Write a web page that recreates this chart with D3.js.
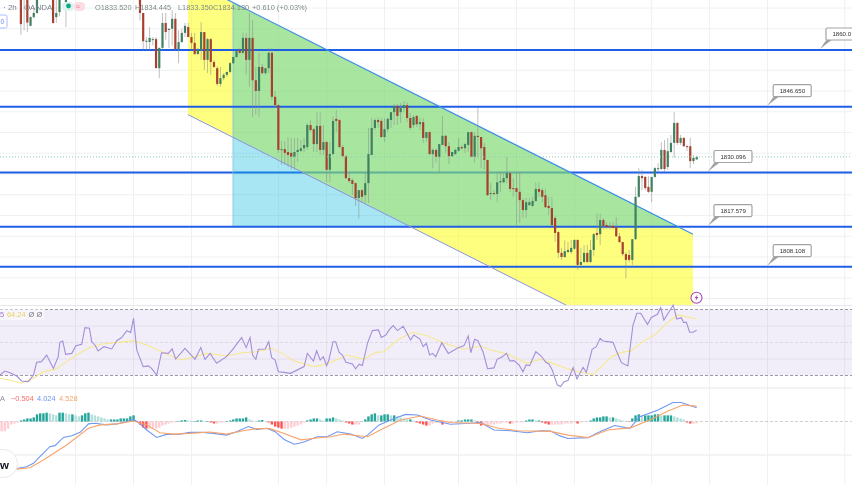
<!DOCTYPE html>
<html lang="en">
<head>
<meta charset="UTF-8">
<title>XAUUSD 2h</title>
<style>
  html, body { margin: 0; padding: 0; background: #fff; overflow: hidden; }
  svg { display: block; font-family: "Liberation Sans", Arial, sans-serif; filter: blur(0.4px); }
</style>
</head>
<body>
<svg width="852" height="485"></svg>
<script src="https://cdn.jsdelivr.net/npm/d3@7"></script>
<script>

// o, h, l, c per 2h bar. null = bar sits above the top of the picture
var candles = [
  [1873,1874,1863.5,1866.1],[1874,1875,1864.6,1872],[1874,1875,1864.2,1866.5],[1865.7,1868,1865.6,1867.8],[1867.8,1870,1867.5,1868.8],[1868.8,1874,1868.6,1873],
  null,null,null,null,
  [1874,1875,1866.2,1866.4],[1867.8,1873,1866.4,1868.8],[1869,1874,1868,1873],null,[1871,1875,1865.4,1874],
  null,null,null,null,null,null,null,null,null,null,null,null,null,null,null,null,null,null,null,null,null,null,
  [1874,1875,1867,1868.8],[1868.8,1868.8,1859.9,1862],[1862,1863,1859.9,1862.1],[1861.8,1865.4,1859.9,1862.8],[1862.3,1863,1861,1862.5],
  [1862.5,1863,1855.5,1855.5],[1855.5,1860.4,1853.1,1860.4],[1860.4,1868.8,1859.9,1866.4],[1866.4,1868.8,1862.3,1864.2],[1864.7,1865,1860.4,1865],
  [1865,1869.5,1861,1867.4],[1867.4,1868.8,1859.9,1860.1],[1860.1,1864.7,1856.7,1861.8],[1861.8,1865,1861.6,1864],[1864,1866.4,1863,1865.7],
  [1865.4,1866.4,1863,1863],[1863,1864,1859.9,1861.6],[1861.6,1864,1858.7,1858.9],[1858.9,1860.4,1858.7,1859.9],[1859.9,1866.6,1857.5,1864.2],
  [1864.2,1864.2,1855.1,1857.5],[1857.5,1862.8,1854.3,1862.5],[1862.5,1862.8,1853.9,1857],[1857,1857.5,1855.5,1855.8],[1855.5,1856,1851.2,1851.7],
  [1851.7,1855.8,1851,1853.1],[1853.1,1854.3,1852.6,1853.9],[1853.9,1854.6,1853.4,1854.6],[1854.6,1857,1854.3,1856.7],[1856.7,1858.2,1856.5,1858.2],
  [1858.2,1859.6,1858,1859.6],[1859.9,1860.4,1858.9,1859.2],[1859.2,1864,1858.9,1862.8],[1862.8,1864,1853.9,1857.5],[1857.5,1868.8,1851,1862.8],
  [1862.8,1867.1,1843.7,1852.6],[1852.6,1855.8,1844.2,1850],[1850,1859.2,1843.7,1855.8],[1855.8,1856.5,1854,1854.3],[1854.3,1855.5,1853.9,1855.5],
  [1855.5,1860.4,1854.3,1859.2],[1859.2,1860.4,1847.8,1848.6],[1848.6,1850,1846,1846.6],[1846.6,1846.9,1835.1,1835.8],[1835.8,1838,1832.2,1836],
  [1836,1838,1832.2,1835.1],[1835.3,1838.9,1831.7,1834.6],[1835.1,1838.7,1831,1834.1],[1834.1,1838.7,1831,1835.3],[1835.3,1838.7,1832.9,1835.8],
  [1835.6,1838.2,1835.3,1836.2],[1836.2,1838.7,1835.3,1837],[1836.5,1842.3,1835.8,1841.8],[1841.8,1843,1840.1,1840.6],[1840.8,1841.1,1835.3,1837.2],
  [1837.2,1844.9,1835.3,1841.6],[1841.6,1844.9,1834.6,1835.8],[1835.8,1841.8,1834.6,1837.7],[1837.7,1838,1828,1831],[1831,1837.7,1828,1834.8],
  [1834.8,1843.9,1834.6,1842.8],[1843.3,1845.4,1840.1,1842.8],[1843,1843.3,1836.2,1836.5],[1836.5,1837,1833.9,1834.3],[1834.3,1834.6,1828.8,1829],
  [1829,1830.5,1827.8,1828.3],[1828.5,1829,1824.9,1827.6],[1827.8,1828,1822.3,1824.2],[1824.2,1826.1,1819.2,1826.1],[1826.1,1826.4,1823.2,1824.5],
  [1824.9,1830.5,1823,1827.8],[1827.8,1841.1,1823,1834.8],[1834.6,1843.5,1834.6,1841.1],[1841.1,1843.5,1840.6,1843],[1843,1843.7,1841.1,1842.5],
  [1842.8,1843.5,1838.7,1838.9],[1838.9,1843.5,1837.7,1840.8],[1840.8,1843.5,1840.1,1843.3],[1843,1844.9,1841.1,1844.9],[1844.9,1846.9,1841.8,1846.4],
  [1846.4,1846.9,1841.8,1844],[1844.9,1847.1,1842.3,1845.9],[1845.9,1847.6,1844.9,1846.6],[1846.6,1847.3,1842.5,1843.5],[1843.5,1844.7,1840.6,1841.1],
  [1841.8,1844.2,1841.1,1843.7],[1844,1844.2,1841.3,1842],[1842,1843.5,1840.6,1842.5],[1842.5,1843.5,1837.5,1838.7],[1838.7,1840.1,1837.7,1840.1],
  [1840.1,1840.3,1834.6,1834.8],[1834.8,1836.2,1831.4,1835.8],[1835.8,1836.2,1832.7,1834.1],[1834.1,1837.2,1830.5,1837.2],[1837,1844,1837,1839.2],
  [1839.2,1839.4,1835.1,1836.7],[1836.7,1837.7,1832.4,1834.3],[1834.3,1835.3,1834.1,1835.3],[1834.8,1836.2,1834.6,1835.8],[1835.6,1838.7,1835.3,1836.5],
  [1836.5,1837,1835.8,1836.2],[1836.2,1837.5,1835.1,1837.2],[1837,1840.1,1835.3,1840.1],[1840.1,1840.3,1833.9,1834.1],[1834.1,1840.1,1832.7,1839.2],
  [1839.2,1846.1,1833.9,1838.9],[1838.9,1838.9,1831.4,1836.2],[1836.5,1837.5,1831,1833.4],[1833.4,1833.4,1824.7,1824.9],[1825.2,1827.8,1823.7,1825.4],
  [1825.4,1826.1,1824.9,1825.2],[1825.2,1830.5,1823.2,1828],[1828,1830.5,1825.7,1828.3],[1828,1830.3,1827.8,1829],[1829,1834.1,1827.8,1830.2],
  [1830.2,1830.5,1825.7,1826.4],[1826.6,1829,1824.5,1826.4],[1826.6,1830.5,1817.7,1825.7],[1825.7,1830.5,1818.2,1823.7],[1823.7,1824.2,1819.4,1821.3],
  [1821.3,1824.2,1819.4,1823.2],[1822.5,1824.2,1822.3,1823.2],[1822.3,1824.5,1822,1823.5],[1823.5,1828,1823.2,1826.4],[1826.4,1828,1824.5,1825.7],
  [1826.1,1826.6,1823.2,1824.5],[1824.9,1826.4,1821.8,1822],[1822.3,1824.5,1820.1,1821.8],[1821.8,1824.5,1817.5,1817.7],[1819.4,1819.9,1813.6,1815.8],
  [1816,1816.3,1809.8,1811],[1811,1812.2,1809.3,1810],[1810,1814,1809.8,1811.4],[1811.2,1813.6,1811,1811.7],[1811.2,1814.1,1810.7,1812.2],
  [1812,1814.3,1811.7,1814.1],[1814.1,1814.3,1806.9,1808.1],[1808.1,1812.2,1807.6,1808.8],[1808.8,1812.9,1808.5,1811],[1811,1812.9,1808.5,1808.8],
  [1808.8,1814.1,1808.5,1811.7],[1811.7,1815.8,1810.2,1815.5],[1815.8,1820.4,1814.1,1815.3],[1815.5,1820.4,1812.9,1818.9],[1818.9,1819.4,1816.7,1817.5],
  [1817.7,1818.4,1816.7,1817.2],[1817.5,1818.4,1816.7,1817.2],[1817.5,1818.4,1816.7,1817],[1817.2,1819.6,1814.8,1815],[1815,1815.8,1813.4,1813.6],
  [1813.6,1813.6,1810.2,1810.7],[1810.7,1811.2,1804.9,1809.3],[1810.5,1811.7,1808.8,1809.3],[1809.3,1814.3,1808.1,1814.3],[1814.3,1826.9,1814.1,1824.5],
  [1824.5,1831.4,1824.2,1829.5],[1829.5,1831,1826.1,1829],[1829.3,1829.5,1826.1,1826.6],[1826.9,1829.5,1825.4,1825.7],[1825.7,1829.3,1823.2,1829.3],
  [1829.3,1831.7,1829,1831.4],[1831.2,1832.6,1830.5,1831.4],[1831.2,1837.7,1831,1835.8],[1835.8,1838.2,1830.5,1831.2],[1831.7,1838.7,1831,1835.5],
  [1835.3,1839.4,1835.1,1837.5],[1837.5,1844.9,1833.9,1842.3],[1842.3,1842.5,1837,1837.5],[1837.5,1839.4,1837,1838.7],[1838.7,1838.9,1836.5,1836.7],
  [1836.7,1837,1835.5,1836.5],[1836.7,1838.7,1831.4,1833.1],[1833.1,1834.6,1832.4,1833.9],[1833.52,1834.445,1833.35,1834.13]
];

var levelPrices = [1859.88, 1846.22, 1830.36, 1817.3, 1807.66];
var levelLabels = ["1860.0", "1846.650", "1830.096", "1817.579", "1808.108"];
var calloutBars = [248.3, 231.9, 213.5, 213.5, 231.9];

var gridBars = [17, 35, 53, 80, 95, 113, 136, 154, 172, 196, 214, 232, 256];
var gridPrices = [1870, 1865, 1860, 1855, 1850, 1845, 1840, 1835, 1830, 1825, 1820, 1815, 1810, 1805, 1800];
var rsiGrid = [60, 40];

// drawings, as bar number and price
var channelUpper = [[51.9, 1876.8], [208.85, 1815.5]];
var channelLower = [[51.9, 1844.3], [208.85, 1783]];
var boxCorners = [[65.9, 1871.2], [65.9, 1817.3], [204.7, 1817.3]];

var rsiLine = [[-6.5,30.3],[-5,32.7],[-3.4,31.7],[-1.3,29.7],[.2,26.7],[2.3,26.3],[3.9,30.3],[4.9,38],[6.4,38.4],[8,42.4],[10.1,34.3],[11.6,41.4],[12.1,50.1],[13,50.9],[13.9,42.8],[15.8,43.4],[17.1,48],[18.9,48.9],[19.9,59],[21.3,58.6],[22,50.5],[23,48.5],[24,44.9],[25.8,47.5],[28.2,46.1],[29.8,51.1],[31.3,53],[32.9,57.2],[34.1,56],[35,64.6],[36,45.5],[38,35.4],[39.6,35.8],[40.6,34.3],[42.2,30.3],[43.7,43.8],[45.8,43.4],[47,46.1],[48.1,40],[51,46.5],[54.1,39.8],[55.9,46.9],[57.2,39.8],[58.8,43.4],[60.8,37.4],[63.9,41.4],[65.7,45.5],[68.6,53],[70,46.9],[71.2,53],[72,42.4],[73,39.8],[73.8,45.9],[75.9,46.1],[77,50.5],[77.9,41],[79,39.4],[80,32.3],[81.8,31.9],
  [83.8,31.3],[88,35.4],[89,43.4],[90.9,38.8],[91.9,45],[93,39.4],[94,41.4],[95,36],[95.7,39.4],[97,50.5],[97.8,50.5],[98.9,44],[99.9,42.4],[101,38],[103,37],[104,34],[105.1,36.8],[106.1,36],[107.7,49.5],[109.2,57.2],[111.1,57.6],[112,53],[113.4,54.5],[114.4,57.6],[115.7,60.2],[117,57.2],[118.8,59.8],[121.1,51.5],[122.1,54.5],[124,52.1],[125,47.5],[126,49.5],[127,42.4],[127.9,43.4],[128.9,41.4],[130.8,49.9],[132.8,43.4],[135.6,46.5],[137.7,48.1],[139,54],[139.8,43.8],[141,51.9],[142,51.1],[143.6,44.4],[145,34.1],[147,34.6],[148,39.8],[149.6,41.4],[150.9,43.4],[151.9,38.8],[153.2,39],[154.8,36.4],[156,32.3],[157,36.4],[158.1,36],[160,44.4],[161.7,41.8],[163.1,38],[164.1,37],[165.1,33.3],[166.7,24.2],[167.7,23.3],[168.8,26.3],[170,27],
  [171.6,34.8],[172.8,27.9],[174.7,35],[175.7,31.9],[177.5,45.9],[178.8,47.5],[180,52.5],[180.9,50.9],[184,50.1],[185,45.1],[186.6,37.8],[188.6,35.8],[190.2,60.6],[191.4,67.7],[192.6,67.7],[194.7,61],[195.9,65.2],[197.8,67.1],[198.8,71.1],[199.8,63.6],[202.7,72.7],[203.8,64.2],[205.2,65],[205.9,62.2],[206.8,62.2],[207.8,56.2],[208.8,56.2],[210,57.4]];

var rsiAverage = [[-6.5,28.3],[-3.4,27.3],[.2,25.3],[3.9,28.3],[7,32.3],[10.6,33.7],[14.2,38.4],[17.3,42.4],[21,46.5],[24.6,48.9],[29.8,49.9],[34.9,51.1],[39.1,48.5],[44.3,44],[49.4,39.4],[53.6,41],[57.7,43.4],[63.9,42],[69.1,43.8],[73.3,44.4],[77.9,46.5],[81.8,42.8],[84.9,38.8],[91.1,35.4],[95.2,37],[101.4,42.4],[106.6,39.8],[110.2,44],[112.8,44.4],[117,51.5],[121.6,56.2],[126.3,54.1],[131.5,49.5],[137.7,45.9],[142.9,47.9],[146,45.5],[151.2,43],[157.4,37.4],[161.5,39.8],[164.6,37.8],[170,34],[174.1,32],[177.8,30.7],[180.4,35.4],[183.5,41.4],[186.6,44],[189.7,44.9],[192.8,50.1],[196.9,54.5],[200.6,61.6],[204.2,66.7],[210,64.24]];

var macdLine = [[-6.5,-14],[-1.3,-13.8],[1.8,-13.3],[3.9,-12.3],[5.9,-10.3],[9,-7.4],[10.6,-7.1],[13.2,-4.7],[15.8,-4.2],[18.4,-3.2],[21,-.7],[23,-.5],[26.6,-1],[29.8,-.7],[32.9,-.05],[34.9,.6],[36.5,-.24],[39.1,-2.5],[42.2,-4.7],[45.3,-3.8],[49.4,-3.7],[52.5,-3.2],[56.7,-3.2],[59.8,-3.5],[63.9,-4],[67,-3],[70.7,-1.5],[73.3,-2.3],[76.4,-2],[79,-3],[81.8,-5.3],[84.9,-6.7],[87.5,-6.2],[92.1,-4.5],[95.2,-4.5],[98.3,-3],[102.5,-3.7],[106.1,-5],[107.7,-4],[111.3,-1],[116,.9],[119.6,2.1],[123.2,1.9],[127.3,.45],[133.5,-.8],[138.2,-.6],[142.9,-.3],[147,-2.5],[152.2,-2.7],[157.4,-3.3],[161.5,-2.7],[164.6,-2.8],[167.7,-4.3],[170,-5],[176.2,-4.75],[180.4,-2.8],[184.5,-1.2],[189.2,-2],[192.3,1.4],[198,3.4],[202.6,5.6],[205.2,5.6],[210,4.024]];

var signalLine = [[-6.5,-14.2],[-1.3,-14],[2.8,-13.6],[7,-11.3],[14.2,-6.9],[21,-2],[24.6,-1],[29.8,-.7],[34.9,.15],[39.1,-1],[43.2,-3.3],[47.4,-3.7],[52.5,-3.5],[58.8,-3.1],[63.9,-3.7],[69.1,-2.7],[73.3,-2.1],[77.4,-2.1],[81.8,-3.5],[87,-5.4],[92.1,-4.85],[96.3,-4.5],[100.4,-3.7],[107.7,-4.5],[112.8,-2],[118,.45],[124.2,1.6],[129.4,.45],[133.5,-.3],[142.9,-.6],[148.1,-1.9],[154.3,-2.7],[164.6,-2.9],[170,-4],[176.2,-4.75],[182.4,-2.5],[189.7,-1.8],[195.9,.65],[201.1,3.1],[205.7,4.85],[210,4.528]];

// histogram starts at bar -6
var histStart = -6;
var histValues = [-2.9,-2.9,-2.1,-.9,-.6,-.3,
  .3,.6,.9,.9,1.2,2.1,2.4,2.4,2.6,2.4,2.1,1.8,2.6,2.6,2.4,2.1,2.1,1.8,1.5,1.8,2.4,2.6,2.1,1.8,1.5,1.2,.9,.6,.6,.6,.6,.9,.9,.9,1.5,1.8,.05,
  -.9,-1.8,-2.1,-2.1,-2.1,-2.1,-1.8,-1.2,-.9,-.6,-.3,-.3,.15,.3,.45,.3,.15,.15,.3,.3,.15,.15,-.3,-.6,-.6,-.3,-.3,.15,.3,.6,.9,.9,.9,1.2,.6,.3,.15,.3,.45,.05,-.3,-.9,-1.5,-1.8,-2.1,
  -2.1,-2.1,-1.8,-1.5,-1.2,-.9,-.3,.3,.6,.9,.9,.6,.3,.9,.9,1.2,.9,.6,.3,-.3,-.6,-.9,-.9,-.9,.05,.6,1.5,2.1,2.4,1.8,1.8,2.1,2.1,1.8,1.8,1.5,1.2,.9,.6,.6,.3,-.3,-.6,-.9,-1.2,-1.2,-.6,-.3,-.3,-.9,-.3,-.3,-.3,-.15,.3,.3,.6,.6,.6,.3,-.6,-1.2,-1.2,-1.2,-.9,-.9,-.6,-.6,-.3,-.3,-.6,-.6,-.3,-.3,-.3,.3,.6,.6,.3,.3,-.3,-.6,-.9,-.9,-.9,-.9,-.9,-.6,
  -.6,-.6,-.3,-.6,-.3,-.15,-.15,.3,.9,1.2,1.2,1.5,1.5,1.2,1.2,.9,.6,.3,.15,-.15,.9,1.8,2.1,1.8,1.8,1.8,1.8,2.1,2.1,1.8,1.8,1.8,1.8,1.5,1.2,.9,.6,-.3,-.6,-.6,-.504];

var ohlcLabels = ["O1833.520", "H1834.445", "L1833.350", "C1834.130", "+0.610 (+0.03%)"];
var ohlcLeft = [95, 135, 178, 213, 252];

var root = d3.select("svg");

var x = d3.scaleLinear().domain([0, 210]).range([20.9, 696.7]);
var y = d3.scaleLinear().domain([1870, 1800]).range([8, 298.5]);
var rsiY = d3.scaleLinear().domain([30, 70]).range([375.5, 309.5]);
var macdY = d3.scaleLinear().domain([0, -13.7]).range([421.5, 468.08]);

var gridColor = "#eef0f3";

var clip = root.append("defs").append("clipPath").attr("id", "mainPane");
clip.append("rect").attr("width", 852).attr("height", 305);

function hLine(g, yPos, color, width, dash) {
  return g.append("line").attr("x1", 0).attr("x2", 852).attr("y1", yPos).attr("y2", yPos)
    .attr("stroke", color).attr("stroke-width", width).attr("stroke-dasharray", dash || null);
}

// grid
var grid = root.append("g");
grid.selectAll(".v").data(gridBars).enter().append("line")
  .attr("x1", function(d) { return x(d); })
  .attr("x2", function(d) { return x(d); })
  .attr("y1", 0).attr("y2", 485)
  .attr("stroke", gridColor).attr("stroke-width", 1);
gridPrices.forEach(function(p) { hLine(grid, y(p), gridColor, 1); });
hLine(grid, 305.5, "#e6e8ec", 1);
hLine(grid, 388, "#e6e8ec", 1);
hLine(grid, 455, "#eef0f3", 1.5);

var main = root.append("g").attr("clip-path", "url(#mainPane)");

// the 1830 level sits under the drawings, the rest on top
var levelColor = "#1f5fe6";
hLine(main, y(levelPrices[2]), levelColor, 2);

var polyPath = d3.line().x(function(d) { return x(d[0]); }).y(function(d) { return y(d[1]); });

main.append("path")
  .attr("d", polyPath([channelUpper[0], channelUpper[1], channelLower[1], channelLower[0]]) + "Z")
  .attr("fill", "rgb(255,255,0)").attr("fill-opacity", 0.5);
main.append("path")
  .attr("d", polyPath(boxCorners) + "Z")
  .attr("fill", "rgb(6,183,220)").attr("fill-opacity", 0.35);
main.append("path")
  .attr("d", polyPath(boxCorners.slice(0, 2)))
  .attr("stroke", "#7cc4dc").attr("stroke-width", 0.8).attr("fill", "none");

levelPrices.forEach(function(p, i) {
  if (i != 2) hLine(main, y(p), levelColor, 2);
});

main.append("path").attr("d", polyPath(channelUpper))
  .attr("stroke", "#3f8fe8").attr("stroke-width", 1.2).attr("fill", "none");
main.append("path").attr("d", polyPath(channelLower))
  .attr("stroke", "#8c90e6").attr("stroke-width", 1).attr("fill", "none");

// candles
var bars = candles.map(function(c, i) {
  return c ? {i: i, o: c[0], h: c[1], l: c[2], c: c[3]} : null;
}).filter(function(d) { return d; });

function barColor(d) { return d.c >= d.o ? "#3f8060" : "#a8402f"; }

main.selectAll(".wick").data(bars).enter().append("line")
  .attr("x1", function(d) { return x(d.i); })
  .attr("x2", function(d) { return x(d.i); })
  .attr("y1", function(d) { return y(d.h); })
  .attr("y2", function(d) { return y(d.l); })
  .attr("stroke", "#8c8c8c").attr("stroke-opacity", 0.55).attr("stroke-width", 1);

main.selectAll(".body").data(bars).enter().append("rect")
  .attr("x", function(d) { return x(d.i) - 1.1; })
  .attr("width", 2.2)
  .attr("y", function(d) { return y(Math.max(d.o, d.c)); })
  .attr("height", function(d) { return Math.max(1, y(Math.min(d.o, d.c)) - y(Math.max(d.o, d.c))); })
  .attr("fill", barColor);

var lastClose = bars[bars.length - 1].c;
hLine(main, y(lastClose), "#8fcdb4", 1, "1 2");

// callouts on the levels
levelPrices.forEach(function(p, i) {
  var tipX = x(calloutBars[i]);
  var tipY = y(p) - 1;
  var g = root.append("g");
  g.append("path")
    .attr("d", "M" + tipX + "," + tipY + "L" + (tipX + 7) + "," + (tipY - 10) + "L" + (tipX + 13) + "," + (tipY - 10) + "Z")
    .attr("fill", "#a3a3a3");
  g.append("rect")
    .attr("x", tipX + 6).attr("y", tipY - 21)
    .attr("width", 38).attr("height", 12).attr("rx", 1.5)
    .attr("fill", "#fff").attr("stroke", "#a3a3a3").attr("stroke-width", 1.2);
  g.append("text")
    .attr("x", tipX + 12.5).attr("y", tipY - 12.7)
    .attr("font-size", 6.1).attr("fill", "#333")
    .text(levelLabels[i]);
});

// alert icon
var bolt = root.append("g").attr("transform", "translate(696.5,297.7)");
bolt.append("circle").attr("r", 5.5).attr("fill", "#fff").attr("stroke", "#ab47bc").attr("stroke-width", 1.1);
bolt.append("path").attr("d", "M1,-3.2L-2,0.6L-0.2,0.6L-1,3.2L2,-0.8L0.2,-0.8Z").attr("fill", "#ab47bc");

// RSI pane
var rsiPane = root.append("g");
rsiPane.append("rect")
  .attr("x", 0).attr("width", 852)
  .attr("y", rsiY(70)).attr("height", rsiY(30) - rsiY(70))
  .attr("fill", "rgb(126,87,194)").attr("fill-opacity", 0.1);
rsiGrid.forEach(function(v) { hLine(rsiPane, rsiY(v), "#e3e0ea", 1); });
hLine(rsiPane, rsiY(70), "#9c9aa3", 1, "3 2");
hLine(rsiPane, rsiY(50), "#dcd9e3", 1, "3 2");
hLine(rsiPane, rsiY(30), "#9c9aa3", 1, "3 2");

var rsiPath = d3.line().x(function(d) { return x(d[0]); }).y(function(d) { return rsiY(d[1]); });
rsiPane.append("path").attr("d", rsiPath(rsiAverage)).attr("fill", "none").attr("stroke", "#f6e88e").attr("stroke-width", 1.1);
rsiPane.append("path").attr("d", rsiPath(rsiLine)).attr("fill", "none").attr("stroke", "#a48fd8").attr("stroke-width", 1.1);

// MACD pane
var macdPane = root.append("g");
hLine(macdPane, macdY(0), "#c4c4c8", 0.8, "3 2");

function histColor(d, i) {
  var prev = i > 0 ? histValues[i - 1] : d;
  if (d >= 0) return d >= prev ? "#26a69a" : "#b2dfdb";
  return d < prev ? "#ff5252" : "#ffcdd2";
}

macdPane.selectAll(".hist").data(histValues).enter().append("rect")
  .attr("x", function(d, i) { return x(histStart + i) - 1.2; })
  .attr("width", 2.4)
  .attr("y", function(d) { return Math.min(macdY(d), macdY(0)); })
  .attr("height", function(d) { return Math.abs(macdY(d) - macdY(0)); })
  .attr("fill", histColor);

var macdPath = d3.line().x(function(d) { return x(d[0]); }).y(function(d) { return macdY(d[1]); });
macdPane.append("path").attr("d", macdPath(macdLine)).attr("fill", "none").attr("stroke", "#6f97f5").attr("stroke-width", 1.1);
macdPane.append("path").attr("d", macdPath(signalLine)).attr("fill", "none").attr("stroke", "#f9a46b").attr("stroke-width", 1.1);

// chart legends
var legend = root.append("g").attr("font-size", 7.4);

legend.append("text").attr("x", 3).attr("y", 9.5).attr("fill", "#7b7f8a").attr("font-size", 8)
  .text("· 2h · OANDA");
legend.append("rect").attr("x", 62).attr("y", 2).attr("width", 12).attr("height", 9).attr("rx", 4).attr("fill", "#dff3ee");
legend.append("circle").attr("cx", 68.5).attr("cy", 6).attr("r", 2.4).attr("fill", "#12a58a");
legend.append("rect").attr("x", 74).attr("y", 2).attr("width", 11).attr("height", 9).attr("rx", 4).attr("fill", "#fbdde3");
legend.append("text").attr("x", 76).attr("y", 8.5).attr("fill", "#e8668a").attr("font-size", 7).text("≈");

ohlcLabels.forEach(function(t, i) {
  legend.append("text").attr("x", ohlcLeft[i]).attr("y", 9.5).attr("fill", "#7f8a86").text(t);
});

legend.append("rect").attr("x", -3).attr("y", 15).attr("width", 10).attr("height", 13).attr("rx", 1.5)
  .attr("fill", "#fff").attr("stroke", "#a9bcff").attr("stroke-width", 1);
legend.append("text").attr("x", 0.5).attr("y", 24).attr("fill", "#6c85e0").attr("font-size", 6.5).text("0");

legend.append("rect").attr("x", 0).attr("y", 309).attr("width", 44).attr("height", 11).attr("fill", "#fff").attr("fill-opacity", 0.45);
legend.append("text").attr("x", 0).attr("y", 317).attr("fill", "#9575cd").text("5");
legend.append("text").attr("x", 7).attr("y", 317).attr("fill", "#e6d35a").text("64.24");
legend.append("text").attr("x", 28.5).attr("y", 317).attr("fill", "#77777d").text("Ø");
legend.append("text").attr("x", 36.5).attr("y", 317).attr("fill", "#77777d").text("Ø");

legend.append("text").attr("x", 0).attr("y", 401).attr("fill", "#8a8e98").text("A");
legend.append("text").attr("x", 11).attr("y", 401).attr("fill", "#ff6b6b").text("−0.504");
legend.append("text").attr("x", 37).attr("y", 401).attr("fill", "#6f97f5").text("4.024");
legend.append("text").attr("x", 59).attr("y", 401).attr("fill", "#f9a46b").text("4.528");

// logo pill, bottom left
var pill = root.append("g");
pill.append("rect").attr("x", -20).attr("y", 449.5).attr("width", 37.5).attr("height", 28).attr("rx", 14)
  .attr("fill", "#fff").attr("stroke", "#e8e9ee").attr("stroke-width", 1);
pill.append("text").attr("x", 0).attr("y", 468.5).attr("font-size", 11.5).attr("font-weight", "bold").attr("fill", "#131722").text("w");

</script>
</body>
</html>
